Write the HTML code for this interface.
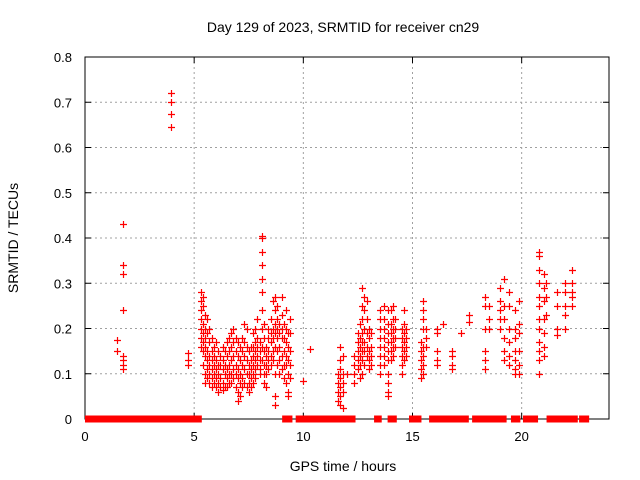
<!DOCTYPE html>
<html><head><meta charset="utf-8"><style>
body{margin:0;background:#fff}
svg{display:block;font-family:"Liberation Sans",sans-serif}
</style></head><body>
<svg id="c" width="640" height="480" xmlns="http://www.w3.org/2000/svg">
<text x="343" y="32" font-size="14" text-anchor="middle">Day 129 of 2023, SRMTID for receiver cn29</text>
<text x="343" y="471" font-size="14" text-anchor="middle">GPS time / hours</text>
<text transform="translate(18,238) rotate(-90)" font-size="14" text-anchor="middle">SRMTID / TECUs</text>
<g id="grid"></g>
<g id="axes"></g>
<g id="marks"></g>
</svg>
<script>
const xTicks=[0,5,10,15,20];
const yTicks=[0,0.1,0.2,0.3,0.4,0.5,0.6,0.7,0.8];
const yTickLabels=["0","0.1","0.2","0.3","0.4","0.5","0.6","0.7","0.8"];
const zeroStart=[0.16,9.34,9.81,13.4,14.02,15.0,15.92,17.89,19.78,20.22,21.3,22.93];
const zeroEnd=[5.19,9.19,12.23,13.43,14.12,15.25,17.42,19.15,19.67,20.59,22.41,22.79];
const clusterHours=[1.45,1.75,3.95,4.7,5.3,5.4,5.5,5.6,5.7,5.8,5.9,6.0,6.1,6.2,6.3,6.4,6.5,6.6,6.7,6.8,6.9,7.0,7.1,7.2,7.3,7.4,7.5,7.6,7.7,7.8,7.9,8.0,8.1,8.2,8.3,8.4,8.5,8.6,8.7,8.8,8.9,9.0,9.1,9.2,9.3,9.4,10.0,10.3,11.6,11.7,11.8,12.0,12.3,12.5,12.6,12.7,12.8,12.9,13.0,13.1,13.5,13.7,13.9,14.0,14.1,14.2,14.5,14.6,14.7,15.4,15.5,15.6,16.1,16.4,16.8,17.2,17.6,18.3,18.5,19.0,19.2,19.4,19.7,19.9,20.8,21.0,21.1,21.6,22.0,22.3];
const clusterValues=[
[.175,.15],[.43,.34,.34,.32,.24,.14,.13,.12,.11],[.72,.70,.675,.645],[.145,.13,.12],
[.28,.26,.24,.22,.20,.18,.16],[.27,.25,.21,.19,.17,.15,.12],[.23,.2,.18,.16,.14,.1,.08],[.22,.19,.15,.13,.11,.09],
[.2,.17,.14,.12,.1,.08],[.18,.15,.13,.11,.09,.07],[.16,.14,.12,.1,.08],[.17,.13,.11,.09,.07],
[.15,.12,.1,.08,.06],[.14,.12,.09,.07],[.16,.13,.11,.08,.065],[.15,.12,.1,.07],
[.17,.14,.11,.09,.07],[.18,.15,.12,.1,.08],[.19,.16,.13,.1,.08],[.2,.17,.14,.11,.09],
[.18,.15,.12,.1,.07],[.17,.14,.11,.09,.06,.04],[.16,.13,.1,.08,.05],[.18,.15,.12,.09,.07],
[.21,.17,.14,.11,.08],[.2,.16,.13,.1,.07],[.15,.12,.1,.08,.06],[.16,.13,.11,.09,.07],
[.19,.16,.14,.12,.1,.08],[.2,.17,.15,.13,.11,.09],[.22,.18,.16,.14,.12],[.17,.15,.13,.11,.1],
[.405,.4,.37,.34,.31,.28,.24,.2,.16,.13],[.21,.18,.15,.12,.1,.08],[.16,.14,.12,.1,.07],[.2,.18,.15,.13,.11],
[.22,.19,.17,.14,.12],[.26,.2,.18,.15,.13],[.27,.24,.21,.19,.16,.1,.05,.03],[.25,.22,.2,.18,.15,.12],
[.21,.19,.16,.13,.1],[.27,.23,.2,.18,.14,.11],[.21,.18,.15,.12,.09],[.24,.2,.17,.14,.12,.08],
[.19,.16,.13,.1,.06,.05],[.22,.19,.15,.12,.09],[.085],[.155],
[.1,.08,.06,.04],[.16,.13,.11,.09,.07,.05,.03],[.14,.1,.08,.06,.025],[.1],
[.14,.12,.1,.08],[.19,.17,.15,.13,.11],[.21,.18,.16,.14,.12,.09],[.29,.25,.22,.19,.17,.15,.13,.1],
[.27,.24,.2,.17,.15,.12],[.26,.22,.19,.16,.14],[.2,.18,.15,.13,.11],[.19,.16,.14,.12],
[.24,.22,.2,.18,.16,.14,.12,.1],[.25,.22,.2,.18,.16,.14,.12],[.24,.21,.19,.17,.15,.13,.1,.08,.06,.05],[.24,.21,.19,.17,.15,.13],
[.25,.22,.2,.18,.16,.14],[.22,.2,.18,.16],[.2,.18,.16,.14,.12,.1],[.24,.21,.19,.17,.15,.13],
[.2,.18,.16,.14],[.17,.15,.13,.11,.09],[.26,.24,.22,.2,.16,.14,.12,.1],[.2,.18,.16],
[.2,.19,.15,.13,.12],[.21],[.15,.14,.12,.11],[.19],[.23,.215],
[.27,.25,.2,.15,.13,.11],[.25,.22,.2],[.29,.26,.24,.22,.2],[.31,.25,.22,.18,.15,.13],
[.28,.25,.2,.17,.14,.12],[.24,.2,.18,.15,.13,.11,.1],[.26,.21,.19,.15,.12,.1],
[.37,.36,.33,.3,.27,.25,.22,.2,.17,.15,.13,.1],[.32,.29,.26,.22,.19,.16,.14],[.3,.27,.23],
[.28,.25,.2,.185],[.3,.28,.25,.23,.2],[.33,.3,.28,.27,.25]];

const L=85,R=609,T=57,B=419;
const xS=h=>L+(h/24)*(R-L);
const yS=v=>B-(v/0.8)*(B-T);
const NS="http://www.w3.org/2000/svg";
function mk(tag,attrs,parent){const e=document.createElementNS(NS,tag);for(const k in attrs)e.setAttribute(k,attrs[k]);parent.appendChild(e);return e;}
const grid=document.getElementById('grid'),axes=document.getElementById('axes'),marks=document.getElementById('marks');
xTicks.forEach(t=>{const x=xS(t);
 if(t>0){const g=mk('line',{x1:x,x2:x,y1:T,y2:B,stroke:'#a0a0a0','stroke-dasharray':'2,3'},grid);
 
 }
 mk('line',{x1:x,x2:x,y1:B,y2:B-6,stroke:'#000'},axes);
 mk('line',{x1:x,x2:x,y1:T,y2:T+6,stroke:'#000'},axes);
 const tx=mk('text',{x:x,y:B+22,'font-size':13,'text-anchor':'middle'},axes);tx.textContent=t;
 
 
});
yTicks.forEach((t,i)=>{const y=yS(t);
 if(t>0&&t<0.8){const g=mk('line',{x1:L,x2:R,y1:y,y2:y,stroke:'#a0a0a0','stroke-dasharray':'2,3'},grid);
 
 }
 mk('line',{x1:L,x2:L+6,y1:y,y2:y,stroke:'#000'},axes);
 mk('line',{x1:R,x2:R-6,y1:y,y2:y,stroke:'#000'},axes);
 const tx=mk('text',{x:L-13,y:y+5,'font-size':13,'text-anchor':'end'},axes);tx.textContent=yTickLabels[i];
 
 
});
mk('rect',{x:L,y:T,width:R-L,height:B-T,fill:'none',stroke:'#000'},axes);
let d='';
zeroStart.forEach((s,i)=>{const a=Math.min(s,zeroEnd[i]),b=Math.max(s,zeroEnd[i]);
 const x1=xS(a)-3.5,x2=xS(b)+3.5;
 const r=mk('rect',{x:x1,y:B-3.5,width:x2-x1,height:7,fill:'#ff0000'},marks);
 
 
});
clusterHours.forEach((h,i)=>{const x=Math.round(xS(h))+0.5;
 clusterValues[i].forEach(v=>{const y=Math.round(yS(v))+0.5;
  d+=`M${x-3.5} ${y}H${x+3.5}M${x} ${y-3.5}V${y+3.5}`;});});
const p=mk('path',{d:d,stroke:'#ff0000','stroke-width':1.2,fill:'none'},marks);


</script>
</body></html>
